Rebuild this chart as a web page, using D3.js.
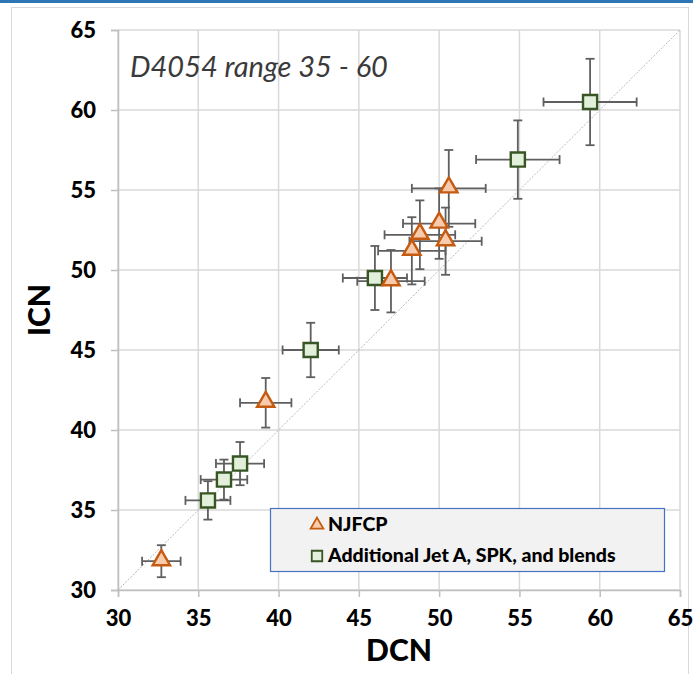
<!DOCTYPE html>
<html lang="en">
<head>
<meta charset="utf-8">
<title>ICN vs DCN</title>
<script src="https://cdn.jsdelivr.net/npm/d3@7"></script>
<style>
    body { margin: 0; background: #fff; }
    svg { display: block; }
    text { font-family: Lato, "Open Sans", sans-serif; }
</style>
</head>
<body>
<div id="chart_div"></div>
<script>
"use strict";

// NJFCP series (triangles)
var njX    = [32.7, 39.2, 50.6, 50.0, 48.8, 50.4, 48.3, 47.0];
var njY    = [31.8, 41.7, 55.1, 52.9, 52.2, 51.8, 51.2, 49.3];
var njXErr = [1.2, 1.6, 2.3, 2.25, 2.2, 2.25, 2.1, 2.1];
var njYErr = [1.0, 1.55, 2.4, 2.2, 2.15, 2.1, 2.1, 1.95];

// Additional Jet A, SPK, and blends (squares)
var adX    = [59.4, 54.9, 46.0, 42.0, 37.6, 36.6, 35.6];
var adY    = [60.5, 56.9, 49.5, 45.0, 37.9, 36.9, 35.6];
var adXErr = [2.9, 2.6, 2.0, 1.75, 1.5, 1.45, 1.4];
var adYErr = [2.7, 2.45, 2.0, 1.7, 1.35, 1.25, 1.2];

var xTicks = [30, 35, 40, 45, 50, 55, 60, 65];
var yTicks = [30, 35, 40, 45, 50, 55, 60, 65];
var seriesNames = ["NJFCP", "Additional Jet A, SPK, and blends"];

var svg_width = 693, svg_height = 674;
var plotLeft = 118, plotRight = 680, plotTop = 30, plotBottom = 590;

var svg = d3.select("#chart_div").append("svg")
    .attr("width", svg_width)
    .attr("height", svg_height);

// chart frame
svg.append("rect")
    .attr("x", 11.5).attr("y", 7.5)
    .attr("width", 677).attr("height", 700)
    .attr("fill", "#fff")
    .attr("stroke", "#d9d9d9");
svg.append("rect")
    .attr("x", 0).attr("y", 0)
    .attr("width", svg_width).attr("height", 3)
    .attr("fill", "#2e75b6");

var xscale = d3.scaleLinear().domain([30, 65]).range([plotLeft, plotRight]);
var yscale = d3.scaleLinear().domain([30, 65]).range([plotBottom, plotTop]);

// gridlines
svg.append("g").selectAll("line").data(xTicks).enter().append("line")
    .attr("x1", function(d) { return xscale(d); })
    .attr("x2", function(d) { return xscale(d); })
    .attr("y1", plotTop).attr("y2", plotBottom)
    .attr("stroke", "#d9d9d9").attr("stroke-width", 1.5);
svg.append("g").selectAll("line").data(yTicks).enter().append("line")
    .attr("y1", function(d) { return yscale(d); })
    .attr("y2", function(d) { return yscale(d); })
    .attr("x1", plotLeft).attr("x2", plotRight)
    .attr("stroke", "#d9d9d9").attr("stroke-width", 1.5);

// axes
var xaxis = d3.axisBottom(xscale).tickValues(xTicks).tickSize(7).tickPadding(13);
var yaxis = d3.axisLeft(yscale).tickValues(yTicks).tickSize(7).tickPadding(15);
var gx = svg.append("g")
    .attr("transform", "translate(0," + plotBottom + ")")
    .call(xaxis);
var gy = svg.append("g")
    .attr("transform", "translate(" + plotLeft + ",0)")
    .call(yaxis);
[gx, gy].forEach(function(g) {
    g.select(".domain").attr("stroke", "#bfbfbf").attr("stroke-width", 1.5);
    g.selectAll(".tick line").attr("stroke", "#bfbfbf").attr("stroke-width", 1.5);
    g.selectAll(".tick text")
        .attr("fill", "#000")
        .style("font-size", "22px")
        .style("font-weight", "900")
        .style("font-family", "Lato, sans-serif");
});
gy.selectAll(".tick text").attr("dy", "0.35em");

// 1:1 line
svg.append("line")
    .attr("x1", xscale(30)).attr("y1", yscale(30))
    .attr("x2", xscale(65)).attr("y2", yscale(65))
    .attr("stroke", "#a6a6a6").attr("stroke-width", 0.8)
    .attr("stroke-dasharray", "2,1.5");

// axis titles
svg.append("text")
    .attr("x", (plotLeft + plotRight) / 2).attr("y", 661)
    .attr("text-anchor", "middle")
    .style("font-size", "30px").style("font-weight", "900")
    .text("DCN");
svg.append("text")
    .attr("transform", "translate(50," + ((plotTop + plotBottom) / 2) + ") rotate(-90)")
    .attr("text-anchor", "middle")
    .style("font-size", "30px").style("font-weight", "900")
    .text("ICN");

svg.append("text")
    .attr("x", 130).attr("y", 77)
    .style("font-size", "29px").style("font-style", "italic")
    .attr("fill", "#3a3a3a")
    .text("D4054 range 35 - 60");

// error bars
function drawErrors(xs, ys, xe, ye) {
    var g = svg.append("g").attr("stroke", "#5f5f5f").attr("stroke-width", 1.8);
    var cap = 4.5;
    xs.forEach(function(x, i) {
        var cx = xscale(x), cy = yscale(ys[i]);
        var x0 = xscale(x - xe[i]), x1 = xscale(x + xe[i]);
        var y0 = yscale(ys[i] - ye[i]), y1 = yscale(ys[i] + ye[i]);
        g.append("line").attr("x1", x0).attr("x2", x1).attr("y1", cy).attr("y2", cy);
        g.append("line").attr("x1", x0).attr("x2", x0).attr("y1", cy - cap).attr("y2", cy + cap);
        g.append("line").attr("x1", x1).attr("x2", x1).attr("y1", cy - cap).attr("y2", cy + cap);
        g.append("line").attr("x1", cx).attr("x2", cx).attr("y1", y0).attr("y2", y1);
        g.append("line").attr("y1", y0).attr("y2", y0).attr("x1", cx - cap).attr("x2", cx + cap);
        g.append("line").attr("y1", y1).attr("y2", y1).attr("x1", cx - cap).attr("x2", cx + cap);
    });
}
drawErrors(adX, adY, adXErr, adYErr);
drawErrors(njX, njY, njXErr, njYErr);

var triangle = d3.symbol().type(d3.symbolTriangle).size(130);
var square = d3.symbol().type(d3.symbolSquare).size(200);

svg.append("g").selectAll("path").data(adX).enter().append("path")
    .attr("d", square)
    .attr("transform", function(d, i) { return "translate(" + xscale(d) + "," + yscale(adY[i]) + ")"; })
    .attr("fill", "#e2efda").attr("stroke", "#375623").attr("stroke-width", 2.4);
svg.append("g").selectAll("path").data(njX).enter().append("path")
    .attr("d", triangle)
    .attr("transform", function(d, i) { return "translate(" + xscale(d) + "," + (yscale(njY[i]) - 1) + ")"; })
    .attr("fill", "#f8cbad").attr("stroke", "#c55a11").attr("stroke-width", 2.4);

// legend
var lg = svg.append("g");
lg.append("rect")
    .attr("x", 270.5).attr("y", 508.5)
    .attr("width", 394).attr("height", 63)
    .attr("fill", "#f2f2f2").attr("stroke", "#4472c4").attr("stroke-width", 1.2);
lg.append("path")
    .attr("d", d3.symbol().type(d3.symbolTriangle).size(70))
    .attr("transform", "translate(317,525)")
    .attr("fill", "#f8cbad").attr("stroke", "#c55a11").attr("stroke-width", 1.8);
lg.append("path")
    .attr("d", d3.symbol().type(d3.symbolSquare).size(110))
    .attr("transform", "translate(317,556)")
    .attr("fill", "#e2efda").attr("stroke", "#375623").attr("stroke-width", 1.8);
lg.selectAll("text").data(seriesNames).enter().append("text")
    .attr("x", 328)
    .attr("y", function(d, i) { return 531 + i * 31; })
    .style("font-size", "19.5px").style("font-weight", "900")
    .text(function(d) { return d; });
</script>
</body>
</html>
